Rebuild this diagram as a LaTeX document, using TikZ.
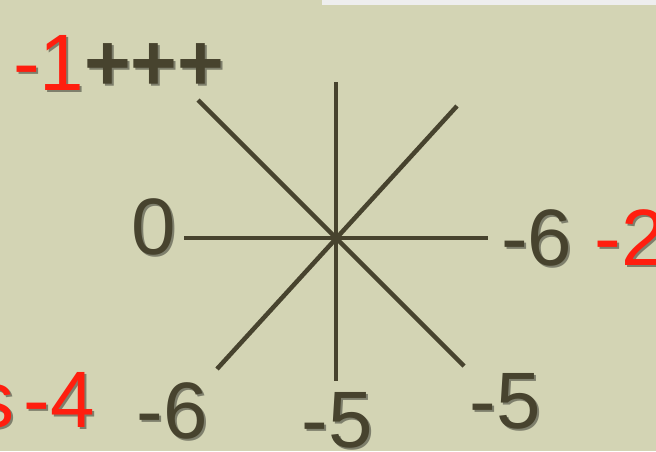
\documentclass[tikz,border=0pt]{standalone}
\usepackage{fontspec}
\setmainfont{Liberation Sans}
\definecolor{bgc}{RGB}{211,212,180}
\definecolor{ink}{RGB}{71,67,46}
\definecolor{redc}{RGB}{255,30,15}
\definecolor{barc}{RGB}{238,238,238}
\tikzset{
  lbl/.style={anchor=base west, inner sep=0pt, text=ink, font=\fontsize{80}{80}\selectfont},
  shd/.style={anchor=base west, inner sep=0pt, text=black, opacity=0.4, font=\fontsize{80}{80}\selectfont},
  axis/.style={draw=ink, line width=4.5pt}
}
\begin{document}
\begin{tikzpicture}[x=1pt,y=-1pt]
\useasboundingbox (0,0) rectangle (656,451);
\clip (0,0) rectangle (656,451);
\fill[bgc] (0,0) rectangle (656,451);
\fill[barc] (322,0) rectangle (656,5);
% line ends
\coordinate (c) at (336,238);
\coordinate (top) at (336,82);
\coordinate (bot) at (336,381);
\coordinate (lft) at (184,238);
\coordinate (rgt) at (488,238);
\coordinate (nw) at (198,100);
\coordinate (se) at (464,366);
\coordinate (ne) at (457,106);
\coordinate (sw) at (217,369);
\draw[axis] (top) -- (bot);
\draw[axis] (lft) -- (rgt);
\draw[axis] (nw) -- (se);
\draw[axis] (ne) -- (sw);
% shadows
\node[shd] (s1a) at (15,92) {-1};
\node[shd] (s1b) at (86,92) {\bfseries +++};
\node[shd] (s2) at (133,256) {0};
\node[shd] (s3) at (503,267) {-6 -2};
\node[shd] (s4a) at (-24,429) {s};
\node[shd] (s4b) at (25.5,429) {-4};
\node[shd] (s5) at (138.5,440) {-6};
\node[shd] (s6) at (303.5,449) {-5};
\node[shd] (s7) at (471.5,430) {-5};
% labels
\node[lbl, text=redc] (t1a) at (13,90) {-1};
\node[lbl] (t1b) at (84,90) {\bfseries +++};
\node[lbl] (t2) at (131,254) {0};
\node[lbl] (t3) at (501,265) {-6 \textcolor{redc}{-2}};
\node[lbl, text=redc] (t4a) at (-26,427) {s};
\node[lbl, text=redc] (t4b) at (23.5,427) {-4};
\node[lbl] (t5) at (136.5,438) {-6};
\node[lbl] (t6) at (301.5,447) {-5};
\node[lbl] (t7) at (469.5,428) {-5};
\end{tikzpicture}
\end{document}
